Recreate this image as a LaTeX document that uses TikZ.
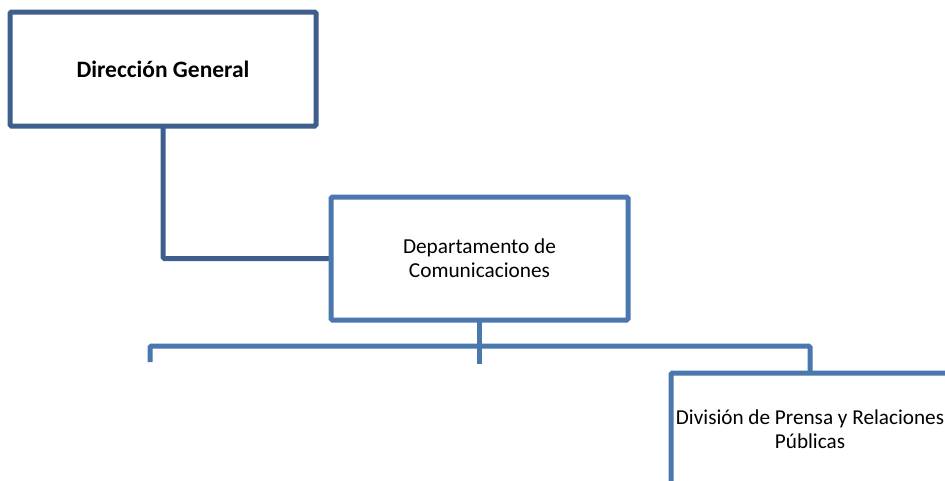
\documentclass[tikz,border=0pt]{standalone}
\usepackage{fontspec}
\setmainfont{Carlito}
\definecolor{dgblue}{HTML}{3E5F8C}
\definecolor{lnblue}{HTML}{4A77AD}
\begin{document}
\begin{tikzpicture}[x=1pt, y=-1pt,
    dgbox/.style={draw=dgblue, line width=5pt, rounded corners=1.5pt, fill=white, align=center, inner sep=0pt},
    unitbox/.style={draw=lnblue, line width=5pt, rounded corners=1.5pt, fill=white, align=center, inner sep=0pt},
    orgline/.style={draw=lnblue, line width=5pt, rounded corners=1.5pt}]
    \useasboundingbox (0,0) rectangle (945,480);
    \clip (0,0) rectangle (945,480);
    \coordinate (busl) at (150,346);
    \coordinate (busr) at (810,346);
    \coordinate (dropl) at (150,362);
    \coordinate (dropm) at (479,364);
    \draw[orgline, draw=dgblue] (163,126) |- (330,258.5);
    \draw[orgline] (dropl) -- (busl) -- (busr) -- (810,376);
    \draw[orgline] (479,320) -- (dropm);
    \node[dgbox, minimum width=306pt, minimum height=114pt, font=\fontsize{23.5}{26}\selectfont\bfseries] (dg) at (163,69) {Dirección General};
    \node[unitbox, minimum width=297pt, minimum height=123pt, font=\fontsize{21.3}{24}\selectfont] (dept) at (479.5,258.5) {Departamento de\\Comunicaciones};
    \node[unitbox, minimum width=278pt, minimum height=112pt, font=\fontsize{21.2}{24}\selectfont] (div) at (810,429) {División de Prensa y Relaciones\\Públicas};
\end{tikzpicture}
\end{document}
